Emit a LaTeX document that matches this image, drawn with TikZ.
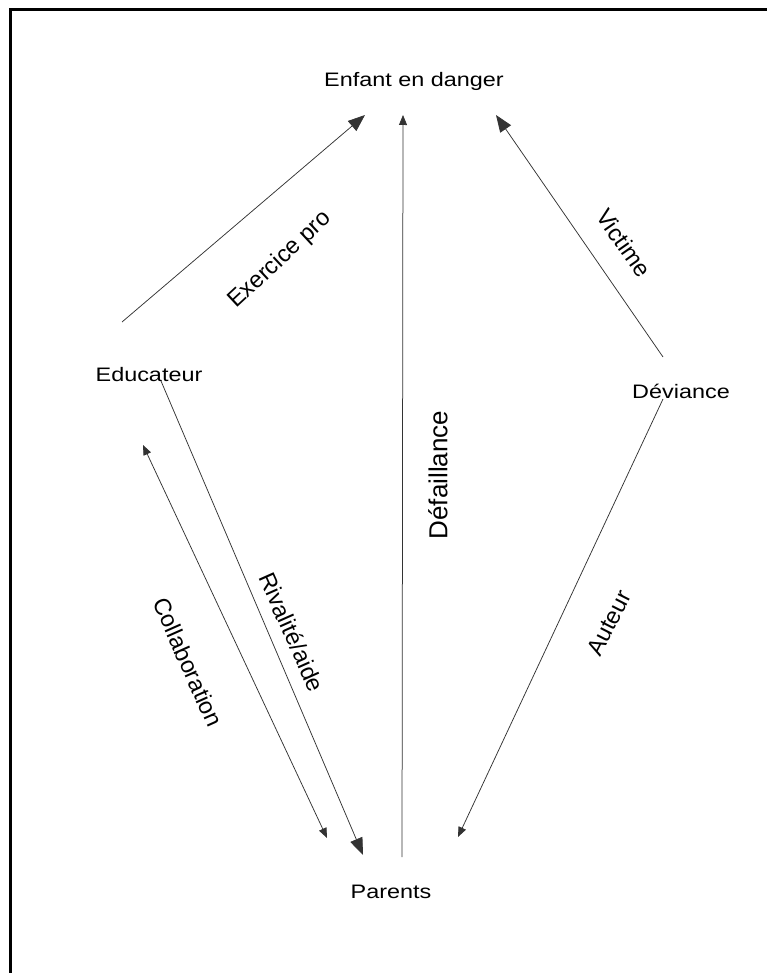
\documentclass[tikz,border=0pt]{standalone}
\usepackage{fontspec}
\setmainfont{Liberation Sans}
\usetikzlibrary{arrows.meta}
\tikzset{
  rel/.style={line width=0.75pt, black!80},
  big/.style={-{Triangle[length=17pt,width=13pt]}},
  small/.style={-{Triangle[length=10pt,width=8pt]}},
  both/.style={{Triangle[length=10pt,width=8pt]}-{Triangle[length=10pt,width=8pt]}},
  who/.style={font=\fontsize{19.5}{23}\selectfont, inner sep=0pt},
  tag/.style={font=\fontsize{23.5}{28}\selectfont, inner sep=0pt},
}
\newcommand{\wide}[1]{\scalebox{1.2}[1]{#1}}

\begin{document}
\begin{tikzpicture}[x=1pt, y=-1pt]
    \useasboundingbox (0,0) rectangle (767,973);
    \draw[line width=3pt] (10,973) |- (767,10);

    \node[who] (enfant) at (414,81) {\wide{Enfant en danger}};
    \node[who] (educ) at (149,375) {\wide{Educateur}};
    \node[who] (dev) at (681,391) {\wide{Déviance}};
    \node[who] (parents) at (391,892) {\wide{Parents}};

    \coordinate (exo-a) at (122,322);
    \coordinate (exo-b) at (365,115);
    \coordinate (def-a) at (402,857);
    \coordinate (def-b) at (403,115);
    \coordinate (vic-a) at (663,357);
    \coordinate (vic-b) at (496,115);
    \coordinate (aut-a) at (663,399);
    \coordinate (aut-b) at (458,837);
    \coordinate (riv-a) at (161,381);
    \coordinate (riv-b) at (363,855);
    \coordinate (col-a) at (143,445);
    \coordinate (col-b) at (327,838);

    \draw[rel, big] (exo-a) -- (exo-b);
    \draw[rel, small] (def-a) -- (def-b);
    \draw[rel, big] (vic-a) -- (vic-b);
    \draw[rel, small] (aut-a) -- (aut-b);
    \draw[rel, big] (riv-a) -- (riv-b);
    \draw[rel, both] (col-a) -- (col-b);

    \node[tag, rotate=43] (l-exo) at (280,260) {Exercice pro};
    \node[tag, rotate=-55] (l-vic) at (624,243) {Victime};
    \node[tag, rotate=90, font=\fontsize{26}{30}\selectfont] (l-def) at (438,475) {Défaillance};
    \node[tag, rotate=-66] (l-riv) at (292,632) {Rivalité/aide};
    \node[tag, rotate=-66] (l-col) at (188,662) {Collaboration};
    \node[tag, rotate=63] (l-aut) at (609,623) {Auteur};
\end{tikzpicture}
\end{document}
